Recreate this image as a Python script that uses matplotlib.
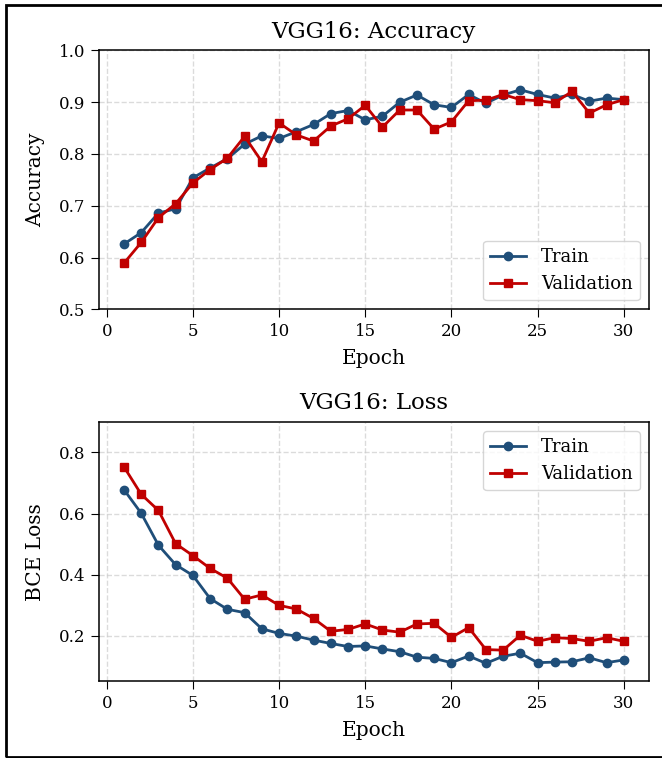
import matplotlib
matplotlib.use('Agg')
import matplotlib.pyplot as plt
from matplotlib.patches import Rectangle

plt.rcParams['font.family'] = 'DejaVu Serif'

epochs = list(range(1, 31))

train_acc = [0.626, 0.648, 0.686, 0.694, 0.754, 0.773, 0.791, 0.819, 0.835, 0.830,
             0.843, 0.857, 0.878, 0.884, 0.866, 0.873, 0.900, 0.914, 0.895, 0.890,
             0.915, 0.898, 0.914, 0.924, 0.915, 0.908, 0.915, 0.902, 0.908, 0.905]
val_acc = [0.589, 0.629, 0.677, 0.704, 0.744, 0.770, 0.792, 0.834, 0.785, 0.860,
           0.837, 0.825, 0.854, 0.868, 0.894, 0.852, 0.885, 0.885, 0.848, 0.862,
           0.903, 0.904, 0.915, 0.905, 0.903, 0.899, 0.921, 0.879, 0.895, 0.905]

train_loss = [0.678, 0.601, 0.496, 0.432, 0.397, 0.321, 0.286, 0.275, 0.222, 0.207,
              0.198, 0.185, 0.174, 0.164, 0.166, 0.156, 0.147, 0.129, 0.125, 0.111,
              0.133, 0.109, 0.132, 0.142, 0.111, 0.113, 0.114, 0.127, 0.111, 0.120]
val_loss = [0.753, 0.663, 0.610, 0.501, 0.462, 0.420, 0.388, 0.319, 0.333, 0.299,
            0.287, 0.256, 0.214, 0.220, 0.238, 0.218, 0.211, 0.238, 0.240, 0.194,
            0.226, 0.154, 0.152, 0.201, 0.181, 0.193, 0.190, 0.181, 0.193, 0.181]

train_color = '#1f4e79'
val_color = '#c00000'

fig = plt.figure(figsize=(6.62, 7.58), dpi=100)

# frame around the whole picture (right edge falls outside the crop)
fig.patches.append(Rectangle((6 / 662, 1.5 / 758), 1.2, 1 - 6 / 758,
                             transform=fig.transFigure, fill=False,
                             edgecolor='black', linewidth=2, clip_on=False))

ax1 = fig.add_axes([0.1495, 0.592, 0.8305, 0.3414])
ax2 = fig.add_axes([0.1495, 0.1012, 0.8305, 0.3421])


def style(ax, title, ylabel):
    ax.set_title(title, fontsize=16.5, pad=9)
    ax.set_xlabel('Epoch', fontsize=14.5, labelpad=6.5)
    ax.set_ylabel(ylabel, fontsize=14.5, labelpad=10)
    ax.tick_params(labelsize=12, length=5.5, pad=4.5)
    ax.grid(True, linestyle='--', color='#cccccc', alpha=0.7, linewidth=1)
    ax.set_axisbelow(True)
    for s in ax.spines.values():
        s.set_linewidth(1.1)


ax1.plot(epochs, train_acc, '-o', color=train_color, lw=2, ms=6, label='Train')
ax1.plot(epochs, val_acc, '-s', color=val_color, lw=2, ms=6, label='Validation')
ax1.set_ylim(0.5, 1.0)
style(ax1, 'VGG16: Accuracy', 'Accuracy')
ax1.legend(loc='lower right', fontsize=13)

ax2.plot(epochs, train_loss, '-o', color=train_color, lw=2, ms=6, label='Train')
ax2.plot(epochs, val_loss, '-s', color=val_color, lw=2, ms=6, label='Validation')
ax2.set_ylim(0.05, 0.9)
ax2.set_yticks([0.2, 0.4, 0.6, 0.8])
style(ax2, 'VGG16: Loss', 'BCE Loss')
ax2.legend(loc='upper right', fontsize=13)

fig.savefig('out.png', dpi=100)
